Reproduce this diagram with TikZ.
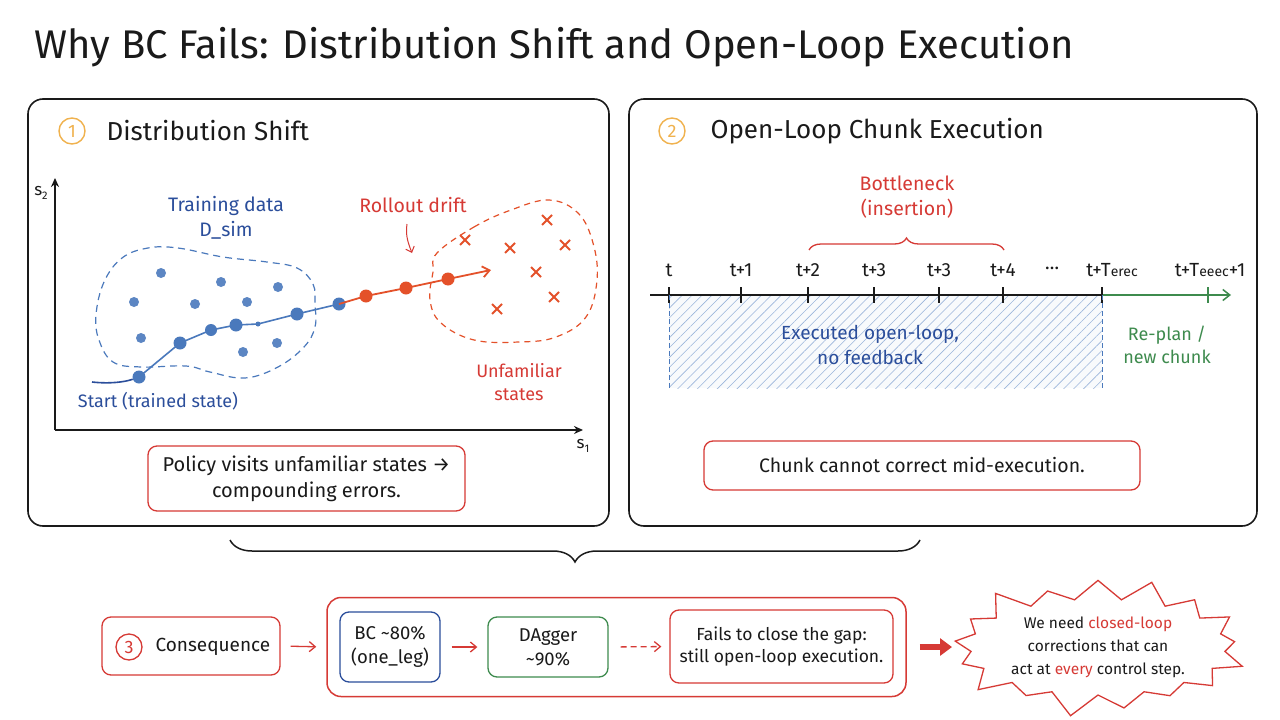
\documentclass[tikz,border=0pt]{standalone}
\usepackage{fontspec}
\setmainfont{Fira Sans}
\usetikzlibrary{arrows.meta,shapes.symbols,shapes.misc,patterns.meta,decorations.pathreplacing,calc}
\definecolor{cred}{HTML}{D63A35}
\definecolor{cblue}{HTML}{2B4E9B}
\definecolor{cdot}{HTML}{4A79BC}
\definecolor{corange}{HTML}{E4512A}
\definecolor{cgreen}{HTML}{3E8B4E}
\definecolor{cgold}{HTML}{F0B24E}
\definecolor{ink}{HTML}{1A1A1A}
\newcommand{\fs}[1]{\fontsize{#1}{\dimexpr #1pt*13/10\relax}\selectfont}
\begin{document}
\begin{tikzpicture}[x=1pt,y=-1pt,
  panel/.style={draw=ink, line width=1.6pt, rounded corners=15pt},
  rbox/.style={draw=cred, line width=1.3pt, rounded corners=9pt, align=center, text=ink, font=\fs{19.5}, inner sep=0pt},
  numc/.style={circle, line width=1.4pt, minimum size=26pt, inner sep=0pt, font=\fs{18}},
  head/.style={anchor=west, text=ink, font=\fs{26}},
  lbl/.style={font=\fs{19.5}, align=center},
  tick/.style={line width=1.4pt},
  tl/.style={font=\fs{19}, text=ink},
  dotb/.style={circle, fill=cdot, inner sep=0pt},
  dotr/.style={circle, fill=corange, inner sep=0pt},
  xmark/.style={cross out, draw=corange, line width=2pt, minimum size=8pt, inner sep=0pt},
  rarrow/.style={draw=cred, line width=1.3pt, -{Straight Barb[length=6pt,width=10pt]}}
]
\useasboundingbox (0,0) rectangle (1280,720);
\fill[white] (0,0) rectangle (1280,720);

% title
\node[anchor=west, text=ink, font=\fs{40}] (title) at (31,47) {Why BC Fails: Distribution Shift and Open-Loop Execution};

% panels
\node[panel, minimum width=581pt, minimum height=427pt] (p1) at (318.5,312.5) {};
\node[panel, minimum width=628pt, minimum height=427pt] (p2) at (943,312.5) {};

% panel 1 header
\node[numc, draw=cgold, text=cgold] (c1) at (72,131) {1};
\node[head] (h1) at (103,131) {Distribution Shift};

% axes
\coordinate (o) at (55,430);
\coordinate (ytop) at (55,178);
\coordinate (xend) at (583,430);
\draw[ink, line width=1.5pt, -{Stealth[length=9pt,width=8pt]}] (o) -- (ytop);
\draw[ink, line width=1.5pt, -{Stealth[length=9pt,width=8pt]}] (o) -- (xend);
\node[text=ink, font=\fs{17}] (s2) at (41,193) {s\raisebox{-4pt}{\fs{11}2}};
\node[text=ink, font=\fs{17}] (s1) at (583,446) {s\raisebox{-4pt}{\fs{11}1}};

% training blob
\draw[cdot, line width=1.2pt, dash pattern=on 7pt off 5pt] plot[smooth cycle, tension=0.65] coordinates {
 (148,248) (178,248) (223,257) (267,262) (297,268) (313,284) (315,304) (315,327) (304,347) (278,367) (245,378) (210,372) (186,366) (141,367) (113,362) (99,340) (96,315) (104,282) (122,258)};
% unfamiliar blob
\draw[corange, line width=1.2pt, dash pattern=on 6pt off 5pt] plot[smooth cycle, tension=0.65] coordinates {
 (437,253) (474,227) (511,210) (549,200) (578,213) (593,243) (597,280) (586,317) (556,337) (519,342) (474,340) (441,323) (430,300) (433,272)};

% scattered data
\foreach \p in {(161,273),(221,282),(278,287),(134,302),(195,304),(247,302),(141,338),(243,352),(277,343)}
  \fill[cdot!90] \p circle (5pt);

% crosses
\foreach \p/\n in {(465,240)/x1,(510,248)/x2,(547,220)/x3,(565,245)/x4,(536,272)/x5,(554,297)/x6,(497,309)/x7}
  \node[xmark] (\n) at \p {};

% trajectory
\coordinate (a0) at (92,382);
\node[dotb, minimum size=13pt] (b1) at (139,377) {};
\node[dotb, minimum size=13pt] (b2) at (180,343) {};
\node[dotb, minimum size=12pt] (b3) at (211,330) {};
\node[dotb, minimum size=13pt] (b4) at (236,325) {};
\node[dotb, minimum size=5pt] (b5) at (258,324) {};
\node[dotb, minimum size=13pt] (b6) at (297,314) {};
\node[dotb, minimum size=13pt] (b7) at (339,304) {};
\node[dotr, minimum size=13pt] (r1) at (366,296) {};
\node[dotr, minimum size=13pt] (r2) at (406,288) {};
\node[dotr, minimum size=13pt] (r3) at (448,279) {};
\coordinate (rend) at (491,270);
\draw[cblue, line width=1.6pt] (a0) .. controls (110,384) and (125,382) .. (b1);
\draw[cdot, line width=1.6pt] (b1.center) -- (b2.center) -- (b3.center) -- (b4.center) -- (b5.center) -- (b6.center) -- (b7.center);
\draw[corange, line width=1.8pt] (b7.center) -- (r1.center) -- (r2.center) -- (r3.center);
\draw[corange, line width=1.8pt, -{Straight Barb[length=7pt,width=11pt]}] (r3.center) -- (rend);

% labels panel 1
\node[lbl, text=cblue] (train) at (226,218) {Training data\\D\_sim};
\node[lbl, text=cred] (drift) at (413,205) {Rollout drift};
\coordinate (da) at (407,224);
\coordinate (db) at (412,253);
\draw[cred, line width=1pt, -{Straight Barb[length=5pt,width=9pt]}] (da) .. controls (405,236) and (409,245) .. (db);
\node[lbl, text=cred, font=\fs{18}] (unf) at (519,382) {Unfamiliar\\states};
\node[font=\fs{18}, text=cblue] (start) at (158,401) {Start (trained state)};

\node[rbox, font=\fs{20}, minimum width=317pt, minimum height=65pt] (pol) at (306.5,478.5) {Policy visits unfamiliar states →\\compounding errors.};

% panel 2 header
\node[numc, draw=cgold, text=cgold] (c2) at (672,131) {2};
\node[head] (h2) at (707,131) {Open-Loop Chunk Execution};

% hatched region
\fill[cdot!4] (669,295) rectangle (1102,388);
\fill[pattern={Lines[angle=45, distance=7pt, line width=0.6pt]}, pattern color=cdot!55] (669,295) rectangle (1102,388);

% timeline
\coordinate (ts) at (650,295);
\coordinate (tm) at (1102,295);
\coordinate (te) at (1231,295);
\draw[ink, line width=1.5pt] (ts) -- (tm);
\draw[cgreen, line width=1.5pt, -{Straight Barb[length=7pt,width=11pt]}] (tm) -- (te);
\foreach \x/\t/\n in {669/t/k0,741/t+1/k1,808/t+2/k2,874/t+3/k3,939/t+3/k4,1003/t+4/k5,1112/{t+T{\fs{14}erec}}/k6}{
  \node[tl] (\n) at (\x,270) {\t};
}
\foreach \x in {669,741,808,874,939,1003,1102}
  \draw[ink, tick] (\x,287) -- (\x,303);
\draw[cgreen, tick] (1208,287) -- (1208,303);
\node[tl] (k7) at (1210,270) {t+T{\fs{14}eeec}+1};
\node[tl] (kd) at (1052,268) {…};
\draw[cdot, line width=1pt, dash pattern=on 5pt off 3pt] (669,295) -- (669,388);
\draw[cdot, line width=1pt, dash pattern=on 5pt off 3pt] (1102,295) -- (1102,388);

% bottleneck
\node[lbl, text=cred] (bn) at (907,197) {Bottleneck\\(insertion)};
\draw[cred, line width=1.3pt, decorate, decoration={brace, amplitude=12pt}] (809,250) -- (1004,250);

\node[lbl, font=\fs{19}, text=cblue] (exe) at (870,345) {Executed open-loop,\\no feedback};
\node[lbl, font=\fs{18}, text=cgreen] (rep) at (1167,345) {Re-plan /\\new chunk};

\node[rbox, minimum width=436pt, minimum height=49pt] (chunk) at (922,465.5) {Chunk cannot correct mid-execution.};

% bottom brace
\draw[ink, line width=1.5pt, decorate, decoration={brace, mirror, amplitude=22pt}] (230,540) -- (920,540);

% bottom row
\node[rbox, minimum width=178pt, minimum height=58pt] (cons) at (191,646) {};
\node[numc, draw=cred, text=cred, minimum size=26pt, line width=1.3pt] (c3) at (129,647) {3};
\node[anchor=west, text=ink, font=\fs{19}] (consT) at (152,647) {Consequence};
\node[draw=cred, line width=1.5pt, rounded corners=14pt, minimum width=579pt, minimum height=99pt] (outer) at (616.5,647) {};
\node[rbox, font=\fs{18.5}, draw=cblue, minimum width=100pt, minimum height=70pt] (bc) at (390,647) {BC \char`\~80\%\\(one\_leg)};
\node[rbox, font=\fs{18.5}, draw=cgreen, minimum width=120pt, minimum height=60pt] (dag) at (548,647) {DAgger\\\char`\~90\%};
\node[rbox, font=\fs{17.5}, minimum width=223pt, minimum height=73pt] (fails) at (781.5,646.5) {Fails to close the gap:\\still open-loop execution.};
\node[starburst, draw=cred, line width=1.3pt, minimum width=275pt, minimum height=140pt, starburst points=17, starburst point height=26pt, align=center, text=ink, font=\fs{15.5}] (star) at (1098,647) {We need \textcolor{cred}{closed-loop}\\[3pt]corrections that can\\[3pt]act at \textcolor{cred}{every} control step.};

\draw[rarrow, shorten <=10pt, shorten >=10pt] (cons.east) -- (outer.west);
\draw[rarrow, shorten <=11pt, shorten >=10pt] (bc.east) -- (dag.west);
\draw[rarrow, dash pattern=on 6pt off 4pt, shorten <=12pt, shorten >=8pt] (dag.east) -- (fails.west);
\draw[cred, line width=6pt, -{Triangle[length=12pt,width=17pt]}, shorten <=13pt] (outer.east) -- (952,647);
\end{tikzpicture}
\end{document}
